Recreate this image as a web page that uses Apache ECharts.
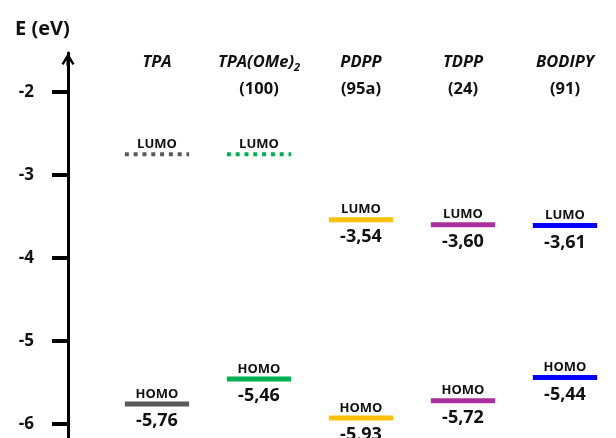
<!DOCTYPE html>
<html>
<head>
<meta charset="utf-8">
<script src="https://cdn.jsdelivr.net/npm/echarts@6/dist/echarts.min.js"></script>
<style>
  html, body { margin: 0; padding: 0; background: #fff; }
  #chart { width: 616px; height: 438px; }
</style>
</head>
<body>
<div id="chart"></div>
<script>
// Frontier orbital energies (eV) of the donor / acceptor building blocks
const compounds = ['TPA', 'TPA(OMe)2', 'PDPP', 'TDPP', 'BODIPY'];
const refCodes = ['', '(100)', '(95a)', '(24)', '(91)'];
const lumo = [-2.75, -2.75, -3.54, -3.60, -3.61];
const lumoPrinted = [false, false, true, true, true];
const homo = [-5.76, -5.46, -5.93, -5.72, -5.44];
const homoPrinted = [true, true, true, true, true];
const yTicks = [-6, -5, -4, -3, -2];

const levelColors = ['#595959', '#00B050', '#FFC000', '#AA2F9C', '#0000FF'];
const lumoDotted = [true, true, false, false, false];
const FONT = '"Open Sans", "Noto Sans", sans-serif';

function fmt(v) {
  return v.toFixed(2).replace('.', ',');
}

// Draws one energy level: a short horizontal bar, its name above, its value below
function levelRenderer(kind, values, printed, dotted) {
  return function (params, api) {
    const i = params.dataIndex;
    const pt = api.coord([api.value(0), api.value(1)]);
    const half = api.size([1, 0])[0] * 0.315;
    const isDotted = dotted ? dotted[i] : false;
    const children = [
      {
        type: 'line',
        shape: { x1: pt[0] - half, y1: pt[1], x2: pt[0] + half, y2: pt[1] },
        style: {
          stroke: levelColors[i],
          lineWidth: isDotted ? 4 : 5,
          lineDash: isDotted ? [4, 4.8] : 'solid',
          lineCap: 'butt'
        }
      },
      {
        type: 'text',
        x: pt[0],
        y: pt[1] - 10,
        style: {
          text: kind,
          fontFamily: FONT, fontWeight: 700, fontSize: 13,
          fill: '#111', align: 'center', verticalAlign: 'middle'
        }
      }
    ];
    if (printed[i]) {
      children.push({
        type: 'text',
        x: pt[0],
        y: pt[1] + 17,
        style: {
          text: fmt(values[i]),
          fontFamily: FONT, fontWeight: 700, fontSize: 18,
          fill: '#111', align: 'center', verticalAlign: 'middle'
        }
      });
    }
    return { type: 'group', children: children };
  };
}

function categoryLabel(value, index) {
  const m = /^(.*\))(\d)$/.exec(value);
  const name = m ? '{i|' + m[1] + '}{s|' + m[2] + '}' : '{i|' + value + '}';
  return name + '\n{c|' + (refCodes[index] || ' ') + '}';
}

const chart = echarts.init(document.getElementById('chart'), null, { renderer: 'canvas' });

chart.setOption({
  animation: false,
  backgroundColor: '#ffffff',
  title: {
    text: 'E (eV)',
    left: 10,
    top: 14,
    textStyle: { fontFamily: FONT, fontWeight: 700, fontSize: 20, color: '#111' }
  },
  grid: { left: 106, top: 53, width: 526, height: 385 },
  xAxis: {
    type: 'category',
    data: compounds,
    position: 'top',
    offset: -49.5,
    boundaryGap: true,
    axisLine: { show: false },
    axisTick: { show: false },
    splitLine: { show: false },
    axisLabel: {
      interval: 0,
      margin: 0,
      formatter: categoryLabel,
      rich: {
        i: { fontFamily: FONT, fontWeight: 700, fontStyle: 'italic', fontSize: 16.5, color: '#111', lineHeight: 27 },
        s: { fontFamily: FONT, fontWeight: 700, fontStyle: 'italic', fontSize: 11, color: '#111', lineHeight: 14, padding: [11, 0, 0, 0] },
        c: { fontFamily: FONT, fontWeight: 700, fontSize: 16.5, color: '#111', lineHeight: 27 }
      }
    }
  },
  yAxis: {
    type: 'value',
    min: -6.17,
    max: -1.53,
    offset: 38,
    splitLine: { show: false },
    axisLine: {
      show: true,
      symbol: ['none', 'path://M6.5,0 L13,10.8 L11,12 L8,7.2 L8,13 L5,13 L5,7.2 L2,12 L0,10.8 Z'],
      symbolSize: [13, 13],
      symbolOffset: [0, -6.5],
      lineStyle: { color: '#000', width: 3 }
    },
    axisTick: {
      show: true,
      inside: false,
      length: 16,
      customValues: yTicks,
      lineStyle: { color: '#000', width: 4 }
    },
    axisLabel: {
      customValues: yTicks,
      margin: 34,
      fontFamily: FONT,
      fontWeight: 700,
      fontSize: 17,
      color: '#111'
    }
  },
  series: [
    {
      name: 'LUMO',
      type: 'custom',
      clip: false,
      data: lumo.map(function (v, i) { return [i, v]; }),
      renderItem: levelRenderer('LUMO', lumo, lumoPrinted, lumoDotted)
    },
    {
      name: 'HOMO',
      type: 'custom',
      clip: false,
      data: homo.map(function (v, i) { return [i, v]; }),
      renderItem: levelRenderer('HOMO', homo, homoPrinted, null)
    }
  ]
});
</script>
</body>
</html>
